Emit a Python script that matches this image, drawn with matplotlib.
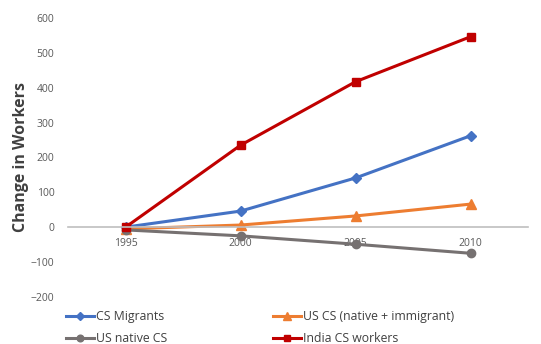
import matplotlib
matplotlib.use("Agg")
import matplotlib.pyplot as plt

years = ["1995", "2000", "2005", "2010"]
cs_migrants = [0, 46, 141, 262]
us_cs_total = [-5, 6, 32, 66]
us_native_cs = [-8, -25, -49, -75]
india_cs = [0, 235, 417, 546]

plt.rcParams["font.family"] = ["Open Sans", "DejaVu Sans"]

fig = plt.figure(figsize=(5.41, 3.44), dpi=100)
ax = fig.add_axes([0.126, 0.137, 0.85, 0.811])

x = range(len(years))
l1, = ax.plot(x, cs_migrants, color="#4472C4", lw=2.2, marker="D", ms=5, label="CS Migrants")
l2, = ax.plot(x, us_cs_total, color="#ED7D31", lw=2.2, marker="^", ms=7, label="US CS (native + immigrant)")
l3, = ax.plot(x, us_native_cs, color="#767171", lw=2.2, marker="o", ms=6, label="US native CS")
l4, = ax.plot(x, india_cs, color="#C00000", lw=2.2, marker="s", ms=6, label="India CS workers")

ax.set_xlim(-0.5, 3.5)
ax.set_ylim(-200, 600)
ax.set_yticks(range(-200, 601, 100))
ax.set_xticks(list(x))
ax.set_xticklabels(years)

for side in ["top", "right", "left"]:
    ax.spines[side].set_visible(False)
ax.spines["bottom"].set_position(("data", 0))
ax.spines["bottom"].set_color("#BFBFBF")
ax.spines["bottom"].set_linewidth(1.2)
ax.set_axisbelow(True)
ax.tick_params(axis="both", length=0, labelsize=7.5, colors="#595959")
ax.tick_params(axis="y", pad=10)
ax.tick_params(axis="x", pad=8)

ax.set_ylabel("Change in Workers", fontsize=11.5, fontweight="bold", color="#404040", labelpad=1)

# ncol=2 fills column by column, so order the handles to read row by row
handles = [l1, l3, l2, l4]
ax.legend(handles, [h.get_label() for h in handles], loc="upper left",
          bbox_to_anchor=(-0.024, -0.016), ncol=2, frameon=False,
          fontsize=8.8, handlelength=2.3, columnspacing=8.7, labelspacing=0.75,
          handletextpad=0.15, markerscale=0.8, labelcolor="#404040",
          borderpad=0.2)

fig.savefig("out.png", dpi=100)
